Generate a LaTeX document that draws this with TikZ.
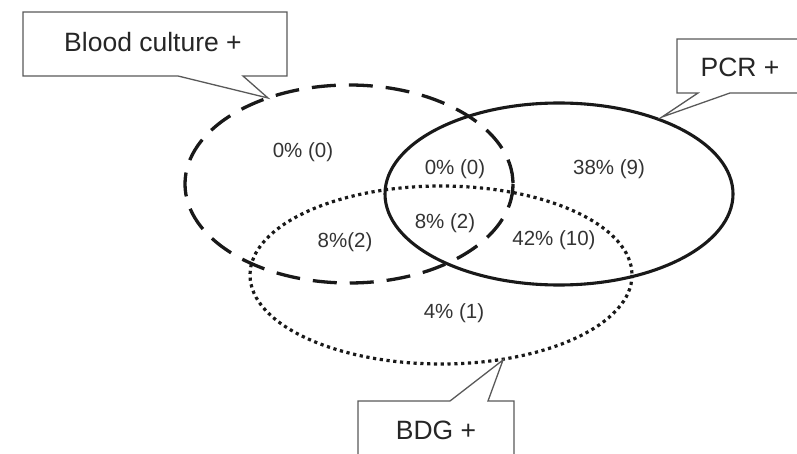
\documentclass[tikz,border=0pt]{standalone}
\usepackage{fontspec}
\setmainfont{Liberation Sans}
\begin{document}
\begin{tikzpicture}[x=1pt,y=-1pt,
  setline/.style={line width=3.1pt,black!90},
  dashset/.style={setline,line width=3.3pt,dash pattern=on 24pt off 13pt},
  dotset/.style={setline,line width=3.2pt,dash pattern=on 3.2pt off 3.6pt},
  calloutbox/.style={draw=black!65,line width=1.3pt,fill=white,line join=miter},
  boxlabel/.style={text=black!85,font=\fontsize{26.5}{30}\selectfont,inner sep=0pt},
  vlabel/.style={text=black!80,font=\fontsize{20.5}{24}\selectfont,inner sep=0pt}]
\useasboundingbox (0,0) rectangle (797,454);
\clip (0,0) rectangle (797,454);
% sets
\draw[dashset] (349,184) ellipse [x radius=164, y radius=99];
\draw[setline] (559,194) ellipse [x radius=174, y radius=91];
\draw[dotset] (441,275) ellipse [x radius=191, y radius=89];
% callouts
\coordinate (bctip) at (268,98);
\coordinate (pcrtip) at (662,117);
\coordinate (bdgtip) at (503,360);
\draw[calloutbox] (23,12) -- (287,12) -- (287,76) -- (243,76) -- (bctip) -- (178,76) -- (23,76) -- cycle;
\draw[calloutbox] (677,39) -- (805,39) -- (805,93) -- (730,93) -- (pcrtip) -- (698,93) -- (677,93) -- cycle;
\draw[calloutbox] (358,465) -- (358,401) -- (450,401) -- (bdgtip) -- (488,401) -- (514,401) -- (514,465);
\node[boxlabel] (bc) at (153,42) {Blood culture +};
\node[boxlabel] (pcr) at (740,67) {PCR +};
\node[boxlabel] (bdg) at (436,430) {BDG +};
% region values
\node[vlabel] (r1) at (303,152) {0\% (0)};
\node[vlabel] (r2) at (455,169) {0\% (0)};
\node[vlabel] (r3) at (609,169) {38\% (9)};
\node[vlabel] (r4) at (445,223) {8\% (2)};
\node[vlabel] (r5) at (345,242) {8\%(2)};
\node[vlabel] (r6) at (554,240) {42\% (10)};
\node[vlabel] (r7) at (454,313) {4\% (1)};
\end{tikzpicture}
\end{document}
